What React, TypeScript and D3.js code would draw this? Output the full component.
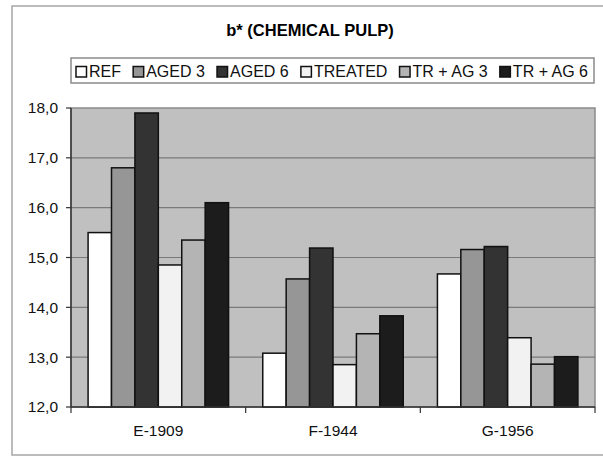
import React, { useEffect, useRef } from 'react';
import * as d3 from 'd3';

const categories = ['E-1909', 'F-1944', 'G-1956'];
const seriesNames = ['REF', 'AGED 3', 'AGED 6', 'TREATED', 'TR + AG 3', 'TR + AG 6'];
const ref = [15.5, 13.08, 14.67];
const aged3 = [16.8, 14.57, 15.16];
const aged6 = [17.9, 15.19, 15.22];
const treated = [14.85, 12.85, 13.39];
const trAg3 = [15.35, 13.47, 12.86];
const trAg6 = [16.1, 13.83, 13.01];
const yTicks = [12, 13, 14, 15, 16, 17, 18];
const seriesColors = ['#ffffff', '#969696', '#333333', '#f2f2f2', '#b4b4b4', '#1c1c1c'];

const App = () => {
  const svgRef = useRef<SVGSVGElement>(null);

  useEffect(() => {
    const svg = d3.select(svgRef.current);
    svg.selectAll('*').remove();

    const width = 603;
    const height = 456;
    const font = '"Liberation Sans", Arial, sans-serif';
    const plot = { left: 71, right: 595, top: 108, bottom: 407 };
    const values = [ref, aged3, aged6, treated, trAg3, trAg6];

    svg.append('rect').attr('width', width).attr('height', height).attr('fill', '#fff');
    // outer chart frame (runs off the right side)
    svg.append('rect')
      .attr('x', 12).attr('y', 6).attr('width', 620).attr('height', 449)
      .attr('fill', 'none').attr('stroke', '#a6a6a6').attr('stroke-width', 1.5);

    svg.append('text')
      .attr('x', 310).attr('y', 36)
      .attr('text-anchor', 'middle')
      .style('font-family', font).style('font-size', '16.5px').style('font-weight', 'bold')
      .attr('fill', '#000')
      .text('b* (CHEMICAL PULP)');

    const x0 = d3.scaleBand().domain(categories).range([plot.left, plot.right]).padding(0);
    const x1 = d3.scaleBand().domain(seriesNames).range([0, x0.bandwidth()]).paddingInner(0).paddingOuter(0.73);
    const y = d3.scaleLinear().domain([12, 18]).range([plot.bottom, plot.top]);

    // plot area
    svg.append('rect')
      .attr('x', plot.left).attr('y', plot.top)
      .attr('width', plot.right - plot.left).attr('height', plot.bottom - plot.top)
      .attr('fill', '#c0c0c0').attr('stroke', '#8a8a8a').attr('stroke-width', 1.5);

    svg.append('g').selectAll('line')
      .data(yTicks.slice(1, -1))
      .enter().append('line')
      .attr('x1', plot.left).attr('x2', plot.right)
      .attr('y1', d => y(d)).attr('y2', d => y(d))
      .attr('stroke', '#7a7a7a').attr('stroke-width', 1.2);

    // bars
    const groups = svg.append('g').selectAll('g')
      .data(categories)
      .enter().append('g')
      .attr('transform', d => `translate(${x0(d)},0)`);

    groups.selectAll('rect')
      .data((c, ci) => seriesNames.map((s, si) => ({ s, si, v: values[si][ci] })))
      .enter().append('rect')
      .attr('x', d => x1(d.s)!)
      .attr('width', x1.bandwidth())
      .attr('y', d => y(d.v))
      .attr('height', d => y(12) - y(d.v))
      .attr('fill', d => seriesColors[d.si])
      .attr('stroke', '#111').attr('stroke-width', 1.5);

    // axes
    const axisColor = '#333';
    svg.append('line')
      .attr('x1', plot.left).attr('x2', plot.left)
      .attr('y1', plot.top).attr('y2', plot.bottom)
      .attr('stroke', axisColor).attr('stroke-width', 1.5);
    svg.append('line')
      .attr('x1', plot.left).attr('x2', plot.right)
      .attr('y1', plot.bottom).attr('y2', plot.bottom)
      .attr('stroke', axisColor).attr('stroke-width', 1.5);

    const yAxis = svg.append('g');
    yAxis.selectAll('line')
      .data(yTicks)
      .enter().append('line')
      .attr('x1', plot.left - 5).attr('x2', plot.left)
      .attr('y1', d => y(d)).attr('y2', d => y(d))
      .attr('stroke', axisColor).attr('stroke-width', 1.2);
    yAxis.selectAll('text')
      .data(yTicks)
      .enter().append('text')
      .attr('x', 58).attr('y', d => y(d))
      .attr('dy', '0.35em')
      .attr('text-anchor', 'end')
      .style('font-family', font).style('font-size', '15.5px')
      .attr('fill', '#111')
      .text(d => d3.format('.1f')(d).replace('.', ','));

    const xTickPos = categories.map(c => x0(c)!).concat([plot.right]);
    svg.append('g').selectAll('line')
      .data(xTickPos)
      .enter().append('line')
      .attr('x1', d => d).attr('x2', d => d)
      .attr('y1', plot.bottom).attr('y2', plot.bottom + 6)
      .attr('stroke', axisColor).attr('stroke-width', 1.2);

    svg.append('g').selectAll('text')
      .data(categories)
      .enter().append('text')
      .attr('x', d => x0(d)! + x0.bandwidth() / 2)
      .attr('y', 431).attr('dy', '0.35em')
      .attr('text-anchor', 'middle')
      .style('font-family', font).style('font-size', '15.5px')
      .attr('fill', '#111')
      .text(d => d);

    // legend
    svg.append('rect')
      .attr('x', 71).attr('y', 58).attr('width', 523).attr('height', 25)
      .attr('fill', '#fff').attr('stroke', '#8a8a8a').attr('stroke-width', 1.5);
    const legend = svg.append('g');
    const items = seriesNames.map((name, i) => {
      const g = legend.append('g');
      g.append('rect')
        .attr('x', 0).attr('y', 66.5).attr('width', 10.5).attr('height', 10.5)
        .attr('fill', seriesColors[i]).attr('stroke', '#111').attr('stroke-width', 1.5);
      const t = g.append('text')
        .attr('x', 13).attr('y', 77)
        .style('font-family', font).style('font-size', '16px')
        .attr('fill', '#111')
        .text(name);
      const w = 13 + (t.node() as SVGTextElement).getComputedTextLength();
      return { g, w };
    });
    const start = 76;
    const end = 588;
    const total = d3.sum(items, d => d.w);
    const gap = (end - start - total) / (items.length - 1);
    let cx = start;
    items.forEach(it => {
      it.g.attr('transform', `translate(${cx},0)`);
      cx += it.w + gap;
    });
  }, []);

  return (
    <svg ref={svgRef} width="603" height="456" style={{ position: 'absolute', left: 0, top: 0 }}></svg>
  );
};

export default App;
